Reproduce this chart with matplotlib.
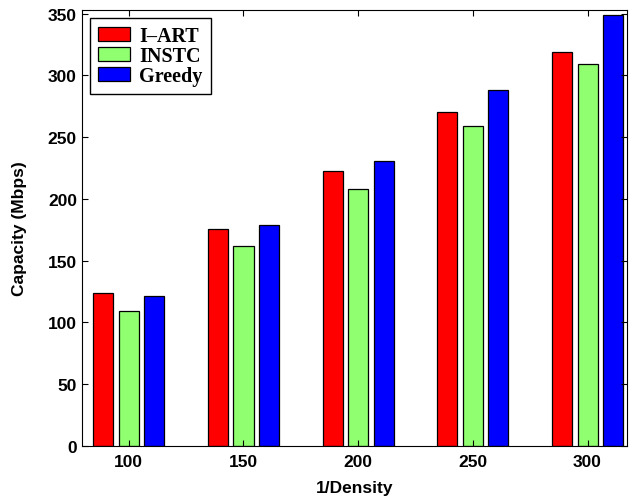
import numpy as np
import matplotlib.pyplot as plt

# values
density = ['100', '150', '200', '250', '300']
iart = [124, 176, 223, 270, 319]
instc = [109, 162, 208, 259, 309]
greedy = [121, 179, 231, 288, 349]

series = [('I\u2013ART', iart, '#ff0000'),
          ('INSTC', instc, '#90ff70'),
          ('Greedy', greedy, '#0000ff')]

plt.rcParams['font.family'] = ['Liberation Sans', 'DejaVu Sans']
plt.rcParams['font.weight'] = 'bold'

fig = plt.figure(figsize=(6.29, 5.02), dpi=100)
ax = fig.add_axes([0.130, 0.110, 0.867, 0.868])

x = np.arange(1, len(density) + 1)
step = 0.222
w = 0.175
for i, (name, vals, col) in enumerate(series):
    ax.bar(x + (i - 1) * step, vals, w, color=col, edgecolor='black',
           linewidth=0.9, label=name)

ax.set_xlim(0.59, 5.345)
ax.set_ylim(0, 353)
ax.set_xticks(x)
ax.set_xticklabels(density)
ax.set_yticks(np.arange(0, 351, 50))
ax.tick_params(direction='in', top=True, right=True, labelsize=12.5, length=4)
ax.tick_params(axis='x', pad=6)
for lab in ax.get_xticklabels() + ax.get_yticklabels():
    lab.set_fontweight('bold')
ax.set_xlabel('1/Density', fontsize=12.5, fontweight='bold', labelpad=8)
ax.set_ylabel('Capacity (Mbps)', fontsize=12.5, fontweight='bold', labelpad=15)

# legend box in the top left corner, Times-like bold text
leg = ax.legend(loc='upper left', bbox_to_anchor=(0.0147, 0.982), borderaxespad=0,
                fancybox=False, edgecolor='black', framealpha=1,
                prop={'family': 'Liberation Serif', 'weight': 'bold', 'size': 14.5},
                handlelength=1.6, handleheight=0.75, borderpad=0.4,
                labelspacing=0.0, handletextpad=0.45)
leg.get_frame().set_linewidth(1.0)

fig.savefig('out.png', dpi=100)
